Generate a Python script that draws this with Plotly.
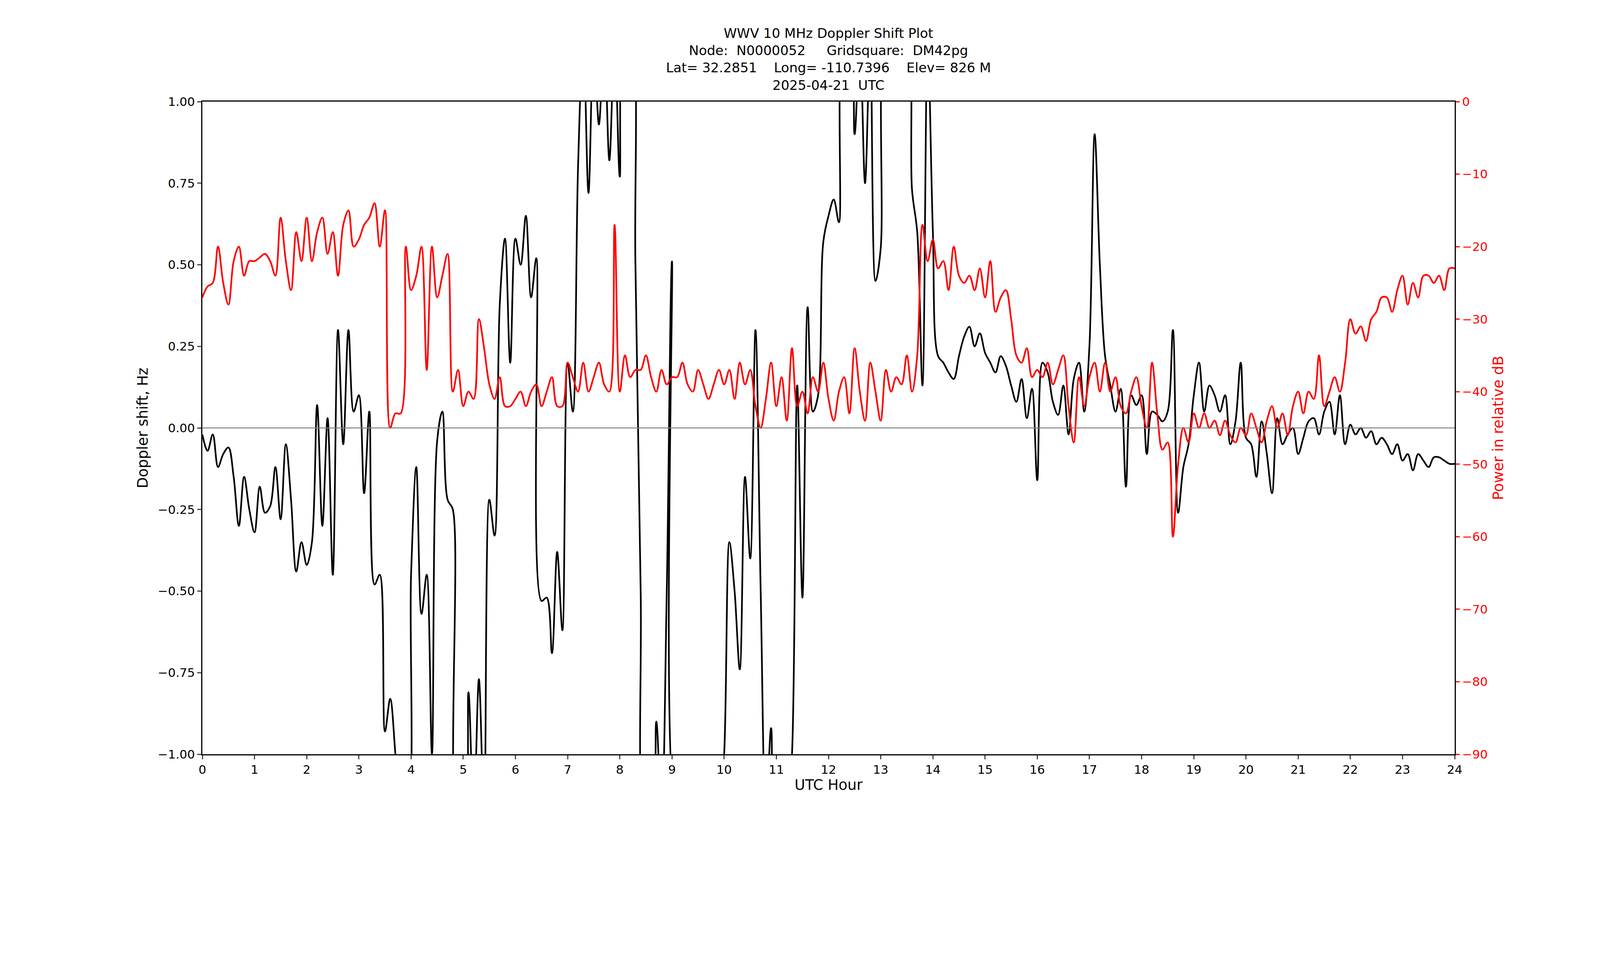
import numpy as np
import plotly.graph_objects as go

hours = np.round(np.arange(0, 24.001, 0.1), 1)

doppler = [-0.02,-0.07,-0.02,-0.12,-0.08,-0.06,-0.15,-0.30,-0.15,-0.25,
-0.32,-0.18,-0.26,-0.24,-0.12,-0.28,-0.05,-0.22,-0.44,-0.35,
-0.42,-0.35,0.07,-0.30,0.03,-0.45,0.30,-0.05,0.30,0.05,
0.10,-0.20,0.05,-0.48,-0.45,-0.93,-0.83,-1.0,-1.2,-1.2,
-0.45,-0.12,-0.57,-0.45,-1.0,-0.04,0.05,-0.22,-0.25,-1.2,
-1.2,-0.81,-1.2,-0.77,-1.2,-0.22,-0.33,0.38,0.58,0.20,
0.58,0.50,0.65,0.40,0.52,-0.53,-0.52,-0.69,-0.38,-0.62,
0.20,0.05,0.8,1.2,0.72,1.2,0.93,1.2,0.82,1.2,
0.77,1.2,1.2,0.5,-0.5,-1.2,-1.2,-0.9,-1.2,-0.5,
0.51,-1.2,-1.2,-1.2,-1.2,-1.2,-1.2,-1.2,-1.2,-1.2,
-1.0,-0.35,-0.5,-0.74,-0.15,-0.40,0.30,-0.5,-1.2,-0.92,
-1.2,-1.2,-1.2,-1.0,0.13,-0.52,0.37,0.05,0.10,0.57,
0.65,0.70,0.63,1.2,1.2,0.9,1.2,0.75,1.2,0.45,
0.55,1.2,1.2,1.2,1.2,1.2,0.73,0.6,0.13,1.2,
0.6,0.22,0.20,0.17,0.15,0.22,0.28,0.31,0.25,0.29,
0.23,0.20,0.17,0.22,0.19,0.13,0.08,0.15,0.03,0.12,
-0.16,0.20,0.17,0.08,0.04,0.13,-0.02,0.15,0.20,0.05,
0.25,0.90,0.50,0.22,0.13,0.05,0.12,-0.18,0.10,0.07,
0.10,-0.08,0.05,0.04,0.02,0.05,0.30,-0.26,-0.12,-0.05,
0.10,0.20,0.05,0.13,0.10,0.05,0.10,-0.05,0.02,0.20,
-0.03,-0.05,-0.15,0.02,-0.08,-0.20,0.03,-0.05,-0.02,0.0,
-0.08,-0.03,0.02,0.03,-0.02,0.05,0.08,-0.02,0.10,-0.05,
0.01,-0.02,0.0,-0.03,-0.01,-0.05,-0.03,-0.05,-0.08,-0.05,
-0.10,-0.08,-0.13,-0.08,-0.10,-0.12,-0.09,-0.09,-0.10,-0.11,-0.11]

power = [-27,-25.5,-25,-20,-25,-28,-22,-20,-24,-22,
-22,-21.5,-21,-22,-24,-16,-22,-26,-18,-22,
-16,-22,-18,-16,-21,-18,-24,-17,-15,-20,
-19,-17,-16,-14,-20,-15,-45,-43,-43,-20,
-26,-24,-20,-37,-20,-27,-24,-21,-40,-37,
-42,-40,-41,-30,-34,-39,-41,-38,-42,-42,
-41,-40,-42,-40,-39,-42,-40,-38,-42,-42,
-36,-38,-40,-36,-40,-38,-36,-39,-40,-17,
-40,-35,-38,-37,-37,-35,-38,-40,-37,-39,
-38,-38,-36,-39,-40,-37,-39,-41,-39,-37,
-39,-37,-41,-36,-39,-37,-42,-45,-41,-36,
-42,-38,-44,-34,-42,-40,-43,-38,-40,-36,
-41,-44,-40,-38,-43,-34,-40,-44,-36,-40,
-44,-37,-40,-38,-39,-35,-40,-35,-17,-22,
-19,-23,-22,-26,-20,-24,-25,-24,-26,-23,
-27,-22,-29,-27,-26,-30,-35,-36,-34,-38,
-37,-38,-36,-39,-37,-35,-42,-47,-38,-42,
-38,-36,-40,-36,-40,-38,-42,-43,-40,-38,
-42,-45,-36,-43,-48,-47,-60,-50,-45,-47,
-43,-45,-43,-45,-44,-46,-44,-46,-47,-45,
-46,-43,-45,-47,-44,-42,-45,-43,-46,-42,
-40,-43,-40,-41,-35,-42,-40,-38,-40,-36,
-30,-32,-31,-33,-30,-29,-27,-27,-29,-26,
-24,-28,-25,-27,-24,-24,-25,-24,-26,-23,-23]

doppler_ticks = [-1, -0.75, -0.5, -0.25, 0, 0.25, 0.5, 0.75, 1]
power_ticks = list(range(-90, 1, 10))

title = ("WWV 10 MHz Doppler Shift Plot<br>Node:  N0000052     Gridsquare:  DM42pg<br>"
         "Lat= 32.2851    Long= -110.7396    Elev= 826 M<br>2025-04-21  UTC")

F = "DejaVu Sans"
fig = go.Figure()
fig.add_trace(go.Scatter(x=hours, y=doppler, mode="lines",
                         line=dict(color="black", width=4.3, shape="spline"), showlegend=False))
fig.add_trace(go.Scatter(x=hours, y=power, mode="lines", yaxis="y2",
                         line=dict(color="red", width=4.3, shape="spline"), showlegend=False))
fig.add_hline(y=0, line=dict(color="gray", width=2.5))
fig.add_annotation(text=title, x=0.5, y=1, xref="paper", yref="paper", xanchor="center",
                   yanchor="bottom", yshift=20, showarrow=False, font=dict(size=34), align="center")

def mfmt(v, fmt):
    s = fmt % v
    return s.replace("-", "−")

fig.update_layout(
    autosize=True, paper_bgcolor="white", plot_bgcolor="white",
    margin=dict(l=518, r=372, t=260, b=226),
    font=dict(family=F, size=31, color="black"),
    xaxis=dict(range=[0, 24], tickvals=list(range(25)), showgrid=False, zeroline=False,
               showline=True, linecolor="black", linewidth=2.5, mirror=True,
               ticks="outside", ticklen=10, tickwidth=2.5,
               title=dict(text="UTC Hour", standoff=8)),
    yaxis=dict(range=[-1, 1], tickvals=doppler_ticks,
               ticktext=[mfmt(v, "%.2f") for v in doppler_ticks],
               showgrid=False, zeroline=False, showline=True, linecolor="black", linewidth=2.5,
               ticks="outside", ticklen=10, tickwidth=2.5,
               title=dict(text="Doppler shift, Hz", standoff=15)),
    yaxis2=dict(range=[-90, 0], overlaying="y", side="right", tickvals=power_ticks,
                ticktext=[mfmt(v, "%d") for v in power_ticks],
                showgrid=False, zeroline=False, showline=True, linecolor="black", linewidth=2.5,
                ticks="outside", ticklen=10, tickwidth=2.5, tickcolor="red",
                tickfont=dict(color="red"),
                title=dict(text="Power in relative dB", font=dict(color="red"), standoff=15)),
)
html = fig.to_html(full_html=True, include_plotlyjs=True, default_width="100vw",
                   default_height="52.63vw", config={"responsive": True, "displayModeBar": False})
html = html.replace("<head>", "<head><style>html,body{margin:0;padding:0;overflow:hidden;background:white;}</style>", 1)
with open("out.html", "w", encoding="utf-8") as f:
    f.write(html)
